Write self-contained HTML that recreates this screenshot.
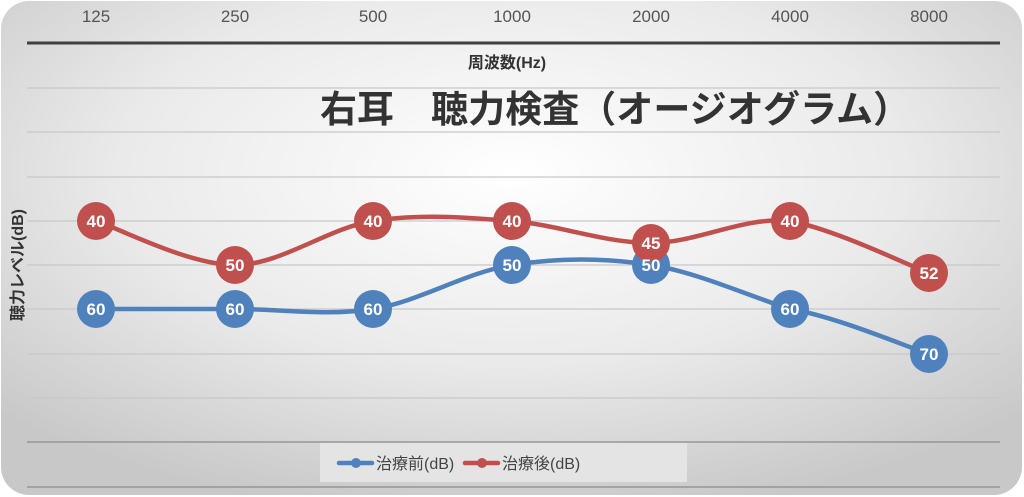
<!DOCTYPE html>
<html><head><meta charset="utf-8"><style>
html,body{margin:0;padding:0;background:#fff;}
svg{display:block;font-family:"Liberation Sans","Noto Sans CJK JP",sans-serif;}
</style></head><body>
<svg width="1024" height="497" viewBox="0 0 1024 497" xmlns="http://www.w3.org/2000/svg">
<defs>
<radialGradient id="bg" cx="0.5" cy="0.35" r="0.7">
<stop offset="0" stop-color="#ffffff"/><stop offset="0.55" stop-color="#eaeaea"/><stop offset="1" stop-color="#c8c8c8"/>
</radialGradient>
</defs>
<rect x="0" y="0" width="1024" height="497" fill="#fff"/>
<rect x="1" y="1" width="1021" height="494" rx="28" fill="url(#bg)"/>
<g stroke="#c8c8c8" stroke-width="1.3">
<line x1="27" x2="1000" y1="88" y2="88"/><line x1="27" x2="1000" y1="132" y2="132"/>
<line x1="27" x2="1000" y1="177" y2="177"/><line x1="27" x2="1000" y1="221" y2="221"/>
<line x1="27" x2="1000" y1="265" y2="265"/><line x1="27" x2="1000" y1="309" y2="309"/>
<line x1="27" x2="1000" y1="354" y2="354"/><line x1="27" x2="1000" y1="398" y2="398"/>
</g>
<g stroke="#8a8a8a" stroke-width="1.3">
<line x1="27" x2="1000" y1="442" y2="442"/><line x1="27" x2="1000" y1="487" y2="487"/>
</g>
<line x1="27" x2="1000" y1="43" y2="43" stroke="#404040" stroke-width="3"/>
<g font-size="17" fill="#555" text-anchor="middle">
<text x="96" y="22">125</text><text x="235" y="22">250</text><text x="373" y="22">500</text>
<text x="512" y="22">1000</text><text x="651" y="22">2000</text><text x="790" y="22">4000</text><text x="929" y="22">8000</text>
</g>
<text x="507" y="68" font-size="16" font-weight="bold" fill="#333" text-anchor="middle">周波数(Hz)</text>
<text x="320" y="122" font-size="37" font-weight="bold" fill="#333" textLength="590" lengthAdjust="spacing">右耳　聴力検査（オージオグラム）</text>
<text transform="translate(23,265) rotate(-90)" font-size="16" font-weight="bold" fill="#333" text-anchor="middle">聴力レベル(dB)</text>
<path d="M96,309 C119,309 189,309 235,309 C281,309 327,316.3 373,309 C419,301.7 466,272.3 512,265 C558,257.7 605,257.7 651,265 C697,272.3 744,294.2 790,309 C836,316.5 906,346.5 929,354" fill="none" stroke="#4f81bd" stroke-width="4.5" stroke-linecap="round"/>
<path d="M96,221 C119,228.3 189,265 235,265 C281,265 327,228.3 373,221 C419,213.7 466,217.3 512,221 C558,224.7 605,243 651,243 C697,243 744,216 790,221 C836,229.7 906,264.3 929,273" fill="none" stroke="#c0504d" stroke-width="4.5" stroke-linecap="round"/>
<g fill="#4f81bd">
<circle cx="96" cy="309" r="19"/><circle cx="235" cy="309" r="19"/><circle cx="373" cy="309" r="19"/>
<circle cx="512" cy="265" r="19"/><circle cx="651" cy="265" r="19"/><circle cx="790" cy="309" r="19"/><circle cx="929" cy="354" r="19"/>
</g>
<g fill="#c0504d">
<circle cx="96" cy="221" r="19"/><circle cx="235" cy="265" r="19"/><circle cx="373" cy="221" r="19"/>
<circle cx="512" cy="221" r="19"/><circle cx="651" cy="243" r="19"/><circle cx="790" cy="221" r="19"/><circle cx="929" cy="273" r="19"/>
</g>
<g font-size="17" font-weight="bold" fill="#fff" text-anchor="middle">
<text x="96" y="315">60</text><text x="235" y="315">60</text><text x="373" y="315">60</text>
<text x="512" y="271">50</text><text x="651" y="271">50</text><text x="790" y="315">60</text><text x="929" y="360">70</text>
<text x="96" y="227">40</text><text x="235" y="271">50</text><text x="373" y="227">40</text>
<text x="512" y="227">40</text><text x="651" y="249">45</text><text x="790" y="227">40</text><text x="929" y="279">52</text>
</g>
<rect x="320" y="443" width="367" height="39" fill="#e4e4e4"/>
<line x1="339" x2="372" y1="463" y2="463" stroke="#4f81bd" stroke-width="4.5" stroke-linecap="round"/>
<circle cx="356" cy="463" r="5" fill="#4f81bd"/>
<text x="376" y="469" font-size="16" fill="#444">治療前(dB)</text>
<line x1="465" x2="498" y1="463" y2="463" stroke="#c0504d" stroke-width="4.5" stroke-linecap="round"/>
<circle cx="482" cy="463" r="5" fill="#c0504d"/>
<text x="502" y="469" font-size="16" fill="#444">治療後(dB)</text>
</svg>
</body></html>
